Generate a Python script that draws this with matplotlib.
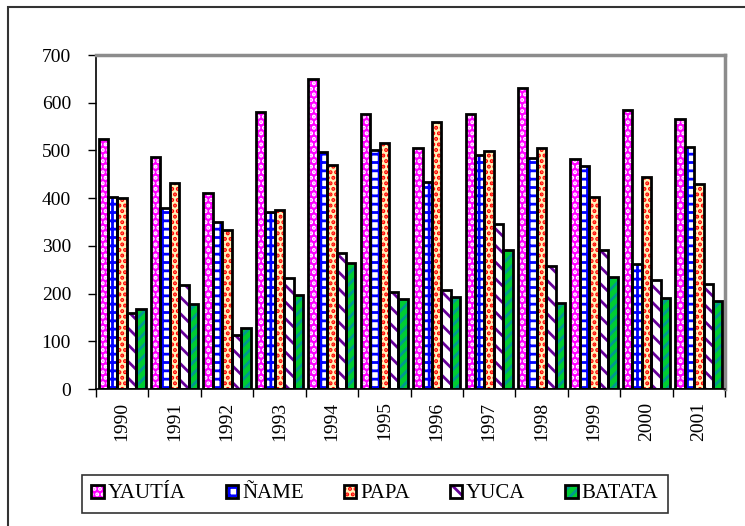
import numpy as np
import matplotlib.pyplot as plt
from matplotlib.patches import Rectangle
from matplotlib.legend_handler import HandlerTuple

years = ['1990', '1991', '1992', '1993', '1994', '1995',
         '1996', '1997', '1998', '1999', '2000', '2001']
yautia = [524, 487, 410, 580, 650, 577, 506, 576, 630, 482, 584, 566]
name_ = [402, 380, 350, 372, 497, 500, 433, 490, 485, 467, 262, 508]
papa = [400, 432, 333, 376, 470, 515, 560, 498, 505, 402, 444, 430]
yuca = [160, 217, 113, 233, 285, 203, 208, 346, 258, 292, 228, 220]
batata = [168, 178, 128, 197, 265, 188, 193, 292, 180, 235, 190, 185]

series = [
    ('YAUTÍA', yautia, '#ff00ff', '#ffffff', '...'),
    ('ÑAME', name_, '#ffffff', '#0000ff', '++'),
    ('PAPA', papa, '#fff2b8', '#ff0000', '...'),
    ('YUCA', yuca, '#ffffff', '#660099', '\\\\'),
    ('BATATA', batata, '#00cc33', '#00998f', '///'),
]

plt.rcParams['font.family'] = ['Liberation Serif', 'DejaVu Serif']
plt.rcParams['hatch.linewidth'] = 2.0

fig = plt.figure(figsize=(7.45, 5.26), dpi=100)
ax = fig.add_axes([96/745, 1-389/526, 629/745, 334/526])

x = np.arange(len(years))
w = 0.18
handles = []
for i, (lab, vals, fc, hc, hatch) in enumerate(series):
    pos = x - 2*w + i*w
    ax.bar(pos, vals, w, color=fc, edgecolor=hc, hatch=hatch, linewidth=0, zorder=2)
    ax.bar(pos, vals, w, color='none', edgecolor='black', linewidth=2.0, zorder=3)
    handles.append((Rectangle((0, 0), 1, 1, facecolor=fc, edgecolor=hc, hatch=hatch, linewidth=0),
                    Rectangle((0, 0), 1, 1, facecolor='none', edgecolor='black', linewidth=2.0)))

ax.set_xlim(-0.5, len(years) - 0.5)
ax.set_ylim(0, 700)
ax.set_yticks(range(0, 701, 100))
ax.set_xticks(x)
ax.set_xticklabels(years, rotation=90, fontsize=14)
ax.set_xticks(np.arange(-0.5, len(years)), minor=True)
ax.tick_params(axis='x', which='major', length=0, pad=9)
ax.tick_params(axis='x', which='minor', length=6, direction='out', width=1)
ax.tick_params(axis='y', labelsize=14, length=6, direction='out', width=1, pad=12)

for s in ['top', 'right']:
    ax.spines[s].set_color('#8c8c8c')
    ax.spines[s].set_linewidth(2.5)
for s in ['left', 'bottom']:
    ax.spines[s].set_color('black')
    ax.spines[s].set_linewidth(1.2)

leg = fig.legend(handles, [s[0] for s in series], ncol=5, loc='center',
                 bbox_to_anchor=(375/745, 1-494/526), fontsize=15,
                 handler_map={tuple: HandlerTuple(ndivide=1)},
                 frameon=True, fancybox=False, handlelength=0.6, handleheight=0.6,
                 handletextpad=0.2, columnspacing=1.9, borderpad=0.45)
leg.get_frame().set_edgecolor('black')
leg.get_frame().set_linewidth(1.2)

# outer chart border
fig.add_artist(Rectangle((8/745, -0.05), 1.1, 1-7/526+0.05, transform=fig.transFigure,
                         facecolor='none', edgecolor='#333333', linewidth=1.5))

plt.savefig('out.png', dpi=100)
